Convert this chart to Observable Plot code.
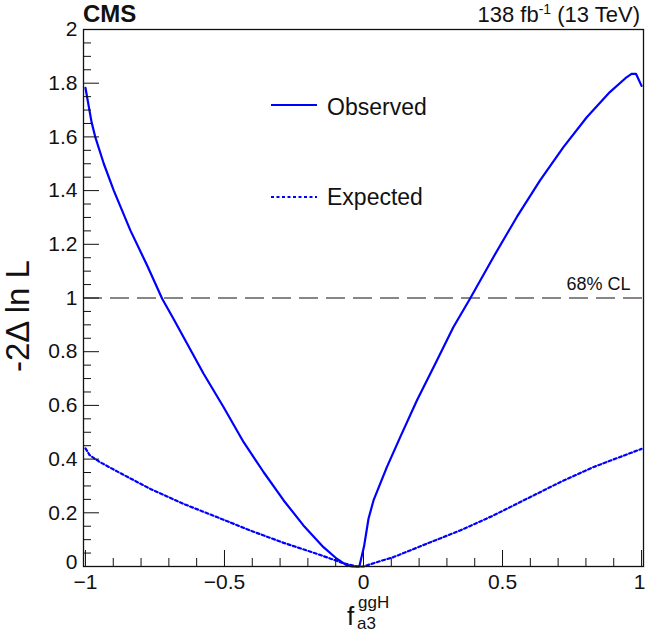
<!DOCTYPE html>
<html><head><meta charset="utf-8">
<script src="https://cdn.jsdelivr.net/npm/d3@7"></script>
<script src="https://cdn.jsdelivr.net/npm/@observablehq/plot@0.6"></script>
<style>body{margin:0;background:#fff;} svg{display:block}</style>
</head><body><div id="chart"></div>
<script>
// Observed (solid) curve
const obsX = [-1.0, -0.978, -0.964, -0.934, -0.898, -0.838, -0.778, -0.724, -0.683, -0.647, -0.575, -0.503, -0.431, -0.359, -0.287, -0.216, -0.144, -0.096, -0.060, -0.040, -0.015, 0.002, 0.018, 0.036, 0.084, 0.132, 0.192, 0.264, 0.323, 0.383, 0.467, 0.551, 0.635, 0.719, 0.803, 0.886, 0.946, 0.964, 0.980, 1.0];
const obsY = [1.783, 1.655, 1.597, 1.50, 1.40, 1.251, 1.121, 0.997, 0.922, 0.854, 0.718, 0.593, 0.463, 0.351, 0.246, 0.153, 0.072, 0.029, 0.004, 0.0, 0.0, 0.075, 0.178, 0.246, 0.370, 0.482, 0.618, 0.767, 0.891, 0.997, 1.152, 1.301, 1.438, 1.562, 1.673, 1.767, 1.822, 1.835, 1.835, 1.79];
// Expected (dotted) curve
const expX = [-1.0, -0.985, -0.95, -0.9, -0.8, -0.766, -0.647, -0.527, -0.407, -0.287, -0.167, -0.072, -0.024, 0.0, 0.06, 0.108, 0.228, 0.347, 0.467, 0.587, 0.707, 0.826, 1.0];
const expY = [0.44, 0.415, 0.39, 0.362, 0.307, 0.289, 0.233, 0.184, 0.134, 0.088, 0.047, 0.012, 0.0, 0.0, 0.02, 0.035, 0.085, 0.134, 0.190, 0.252, 0.314, 0.370, 0.438];

const xMajorTicks = [-1, -0.5, 0, 0.5, 1];
const xMinorTicks = [-0.9, -0.8, -0.7, -0.6, -0.4, -0.3, -0.2, -0.1, 0.1, 0.2, 0.3, 0.4, 0.6, 0.7, 0.8, 0.9];
const yMajorTicks = [0, 0.2, 0.4, 0.6, 0.8, 1, 1.2, 1.4, 1.6, 1.8, 2];
const yMinorTicks = [0.05, 0.1, 0.15, 0.25, 0.3, 0.35, 0.45, 0.5, 0.55, 0.65, 0.7, 0.75, 0.85, 0.9, 0.95, 1.05, 1.1, 1.15, 1.25, 1.3, 1.35, 1.45, 1.5, 1.55, 1.65, 1.7, 1.75, 1.85, 1.9, 1.95];
const clLevel = 1;
const clLabel = "68% CL";
const seriesNames = ["Observed", "Expected"];

const obs = obsX.map((x, i) => ({x, y: obsY[i]}));
const exp = expX.map((x, i) => ({x, y: expY[i]}));

const FONT = "'Liberation Sans', Arial, Helvetica, sans-serif";
const W = 646, H = 633;
const mT = 29, mR = 3, mB = 67, mL = 83;
const innerW = W - mL - mR, innerH = H - mT - mB;
const BLUE = "#0000ff";
const fmt = d3.format("~g");

const svg = Plot.plot({
  width: W, height: H,
  marginTop: mT, marginRight: mR, marginBottom: mB, marginLeft: mL,
  style: {fontFamily: FONT, background: "white", overflow: "visible"},
  x: {domain: [-1.007, 1.007]},
  y: {domain: [0, 2]},
  marks: [
    Plot.ruleY([clLevel], {stroke: "#111", strokeWidth: 1.2, strokeDasharray: "19,8"}),
    Plot.text([clLevel], {y: d => d, text: () => clLabel, frameAnchor: "right", textAnchor: "end", dx: -13, dy: -14, fontSize: 18, fill: "#111"}),
    Plot.line(exp, {x: "x", y: "y", stroke: BLUE, strokeWidth: 2.2, strokeDasharray: "3,2.5"}),
    Plot.line(obs, {x: "x", y: "y", stroke: BLUE, strokeWidth: 2.2}),
    Plot.tickX(xMinorTicks, {x: d => d, insetTop: innerH - 8, stroke: "#111"}),
    Plot.tickX(xMajorTicks, {x: d => d, insetTop: innerH - 16, stroke: "#111"}),
    Plot.tickY(yMinorTicks, {y: d => d, insetRight: innerW - 8, stroke: "#111"}),
    Plot.tickY(yMajorTicks, {y: d => d, insetRight: innerW - 16, stroke: "#111"}),
    Plot.axisX({ticks: xMajorTicks.slice(0, -1), tickFormat: fmt, tickSize: 0, tickPadding: 8, fontSize: 21, label: null, fill: "#111"}),
    Plot.axisX({ticks: xMajorTicks.slice(-1), tickFormat: fmt, tickSize: 0, tickPadding: 8, fontSize: 21, label: null, fill: "#111", textAnchor: "end", dx: 4}),
    Plot.axisY({ticks: yMajorTicks.slice(1), tickFormat: fmt, tickSize: 0, tickPadding: 6, fontSize: 21, label: null, fill: "#111"}),
    Plot.axisY({ticks: yMajorTicks.slice(0, 1), tickFormat: fmt, tickSize: 0, tickPadding: 6, fontSize: 21, label: null, fill: "#111", dy: -4}),
    Plot.frame({stroke: "#111", strokeWidth: 1.3})
  ]
});

const s = d3.select(svg);
const addText = (x, y, size, txt, opts = {}) => {
  const t = s.append("text").attr("x", x).attr("y", y)
    .attr("font-family", FONT).attr("font-size", size).attr("fill", "#111")
    .attr("text-anchor", opts.anchor || "start");
  if (opts.weight) t.attr("font-weight", opts.weight);
  t.text(txt);
  return t;
};
// CMS label
addText(mL, 21.5, 24, "CMS", {weight: "bold"});
// Lumi label
const lumi = s.append("text").attr("x", 640).attr("y", 21.5).attr("text-anchor", "end")
  .attr("font-family", FONT).attr("font-size", 22).attr("fill", "#111");
lumi.append("tspan").text("138 fb");
lumi.append("tspan").attr("font-size", 14).attr("dy", -8).text("-1");
lumi.append("tspan").attr("dy", 8).text(" (13 TeV)");
// x title f_a3^ggH
addText(347, 625, 26, "f");
addText(358, 608, 17, "ggH");
addText(357, 629, 17, "a3");
// y title
s.append("text").attr("transform", "translate(29,316) rotate(-90)")
  .attr("text-anchor", "middle").attr("font-family", FONT).attr("font-size", 33).attr("fill", "#111")
  .text("-2\u0394 ln L");
// legend
s.append("line").attr("x1", 271).attr("x2", 317).attr("y1", 105).attr("y2", 105)
  .attr("stroke", BLUE).attr("stroke-width", 2.2);
addText(327, 115, 23, seriesNames[0]);
s.append("line").attr("x1", 271).attr("x2", 317).attr("y1", 197).attr("y2", 197)
  .attr("stroke", BLUE).attr("stroke-width", 2.2).attr("stroke-dasharray", "3,2.5");
addText(327, 205, 23, seriesNames[1]);

document.getElementById("chart").appendChild(svg);
</script>
</body></html>
